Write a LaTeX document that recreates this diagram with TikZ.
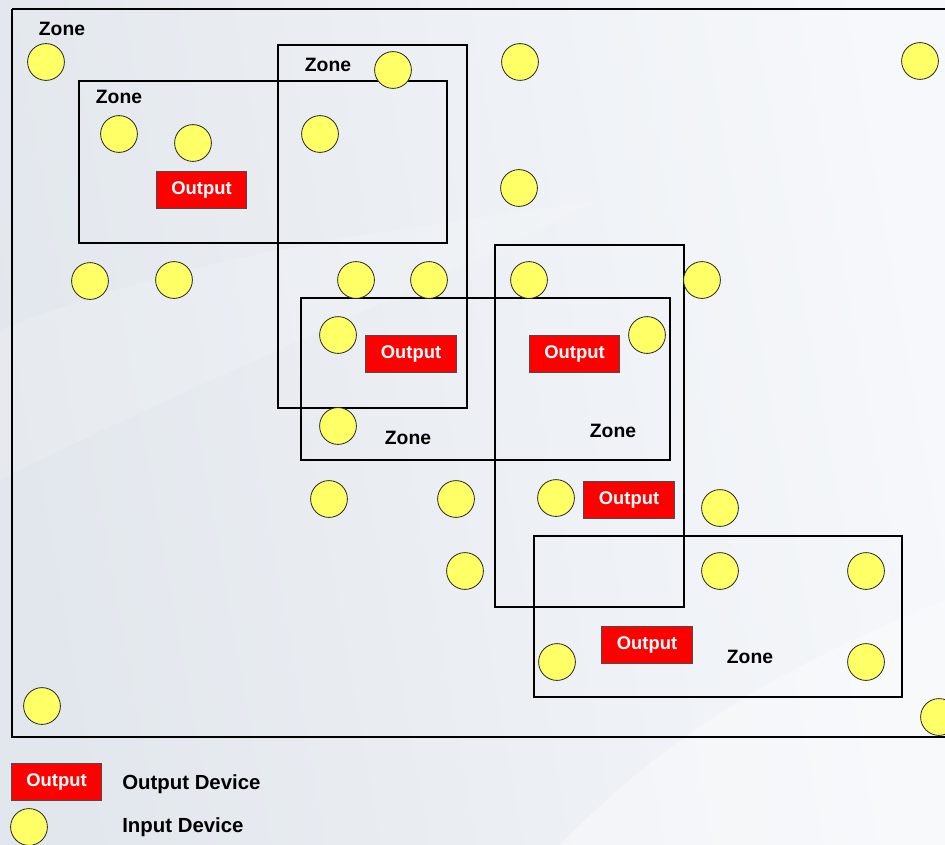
\documentclass[tikz,border=0pt]{standalone}
\usepackage{fontspec}
\setmainfont{Liberation Sans}
\usetikzlibrary{shapes.geometric}
\definecolor{bgA}{HTML}{E2E7ED}
\definecolor{bgB}{HTML}{F6F8FB}
\definecolor{inyel}{HTML}{FFFF66}
\definecolor{outred}{HTML}{FF0000}
\tikzset{
  zonebox/.style={draw=black, line width=1.5pt},
  inp/.style={circle, draw=black!85, line width=0.6pt, fill=inyel, minimum size=27.6pt, inner sep=0pt},
  outdev/.style={rectangle, draw=black!70, line width=0.6pt, fill=outred, text=white, font=\bfseries\fontsize{13.8}{15}\selectfont, minimum width=68pt, minimum height=27.6pt, inner sep=0pt},
  zonelbl/.style={font=\bfseries\fontsize{14.5}{16}\selectfont, text=black, inner sep=0pt},
  leglbl/.style={font=\bfseries\fontsize{15.3}{17}\selectfont, text=black, inner sep=0pt, anchor=west}
}
\begin{document}
\begin{tikzpicture}[x=0.75pt,y=-0.75pt]
\useasboundingbox (0,0) rectangle (945,845);
% background
\shade[left color=bgA, right color=bgB, shading angle=100] (0,0) rectangle (945,845);
\fill[white, opacity=0.35] (560,845) .. controls (700,700) and (850,640) .. (945,600) -- (945,845) -- cycle;
\fill[white, opacity=0.15] (0,330) .. controls (200,250) and (400,230) .. (600,200) .. controls (400,300) and (200,380) .. (0,480) -- cycle;
% outer frame
\draw[line width=1.5pt] (12,9) -- (948,9);
\draw[line width=1.5pt] (948,737) -- (12,737) -- (12,9);
% zones
\draw[zonebox] (79,81) rectangle (447,243);
\draw[zonebox] (278,45) rectangle (467,408);
\draw[zonebox] (301,298) rectangle (670,460);
\draw[zonebox] (495,245) rectangle (684,607);
\draw[zonebox] (534,536) rectangle (902,697);
% zone labels
\node[zonelbl] (zl0) at (62,29) {Zone};
\node[zonelbl] (zl1) at (119,97) {Zone};
\node[zonelbl] (zl2) at (328,65) {Zone};
\node[zonelbl] (zl3) at (408,438) {Zone};
\node[zonelbl] (zl4) at (613,431) {Zone};
\node[zonelbl] (zl5) at (750,657) {Zone};
% input devices
\node[inp] (i1) at (46,62) {};
\node[inp] (i2) at (393,70) {};
\node[inp] (i3) at (520,62) {};
\node[inp] (i4) at (920,61) {};
\node[inp] (i5) at (119,134) {};
\node[inp] (i6) at (193,143) {};
\node[inp] (i7) at (320,134) {};
\node[inp] (i8) at (519,188) {};
\node[inp] (i9) at (90,281) {};
\node[inp] (i10) at (174,280) {};
\node[inp] (i11) at (356,280) {};
\node[inp] (i12) at (429,280) {};
\node[inp] (i13) at (529,280) {};
\node[inp] (i14) at (702,280) {};
\node[inp] (i15) at (338,335) {};
\node[inp] (i16) at (647,335) {};
\node[inp] (i17) at (338,426) {};
\node[inp] (i18) at (329,499) {};
\node[inp] (i19) at (456,499) {};
\node[inp] (i20) at (556,498) {};
\node[inp] (i21) at (720,508) {};
\node[inp] (i22) at (465,571) {};
\node[inp] (i23) at (720,571) {};
\node[inp] (i24) at (866,571) {};
\node[inp] (i25) at (557,662) {};
\node[inp] (i26) at (866,662) {};
\node[inp] (i27) at (42,706) {};
\node[inp] (i28) at (939,717) {};
% output devices
\node[outdev] (o1) at (201.5,189.5) {Output};
\node[outdev] (o2) at (411,353.5) {Output};
\node[outdev] (o3) at (574.5,353.5) {Output};
\node[outdev] (o4) at (629,499.5) {Output};
\node[outdev] (o5) at (647,644.5) {Output};
% legend
\node[outdev] (lo) at (56.5,781.5) {Output};
\node[inp] (li) at (29,827) {};
\node[leglbl] (lot) at (122,784) {Output Device};
\node[leglbl] (lit) at (122,827) {Input Device};
\end{tikzpicture}
\end{document}
